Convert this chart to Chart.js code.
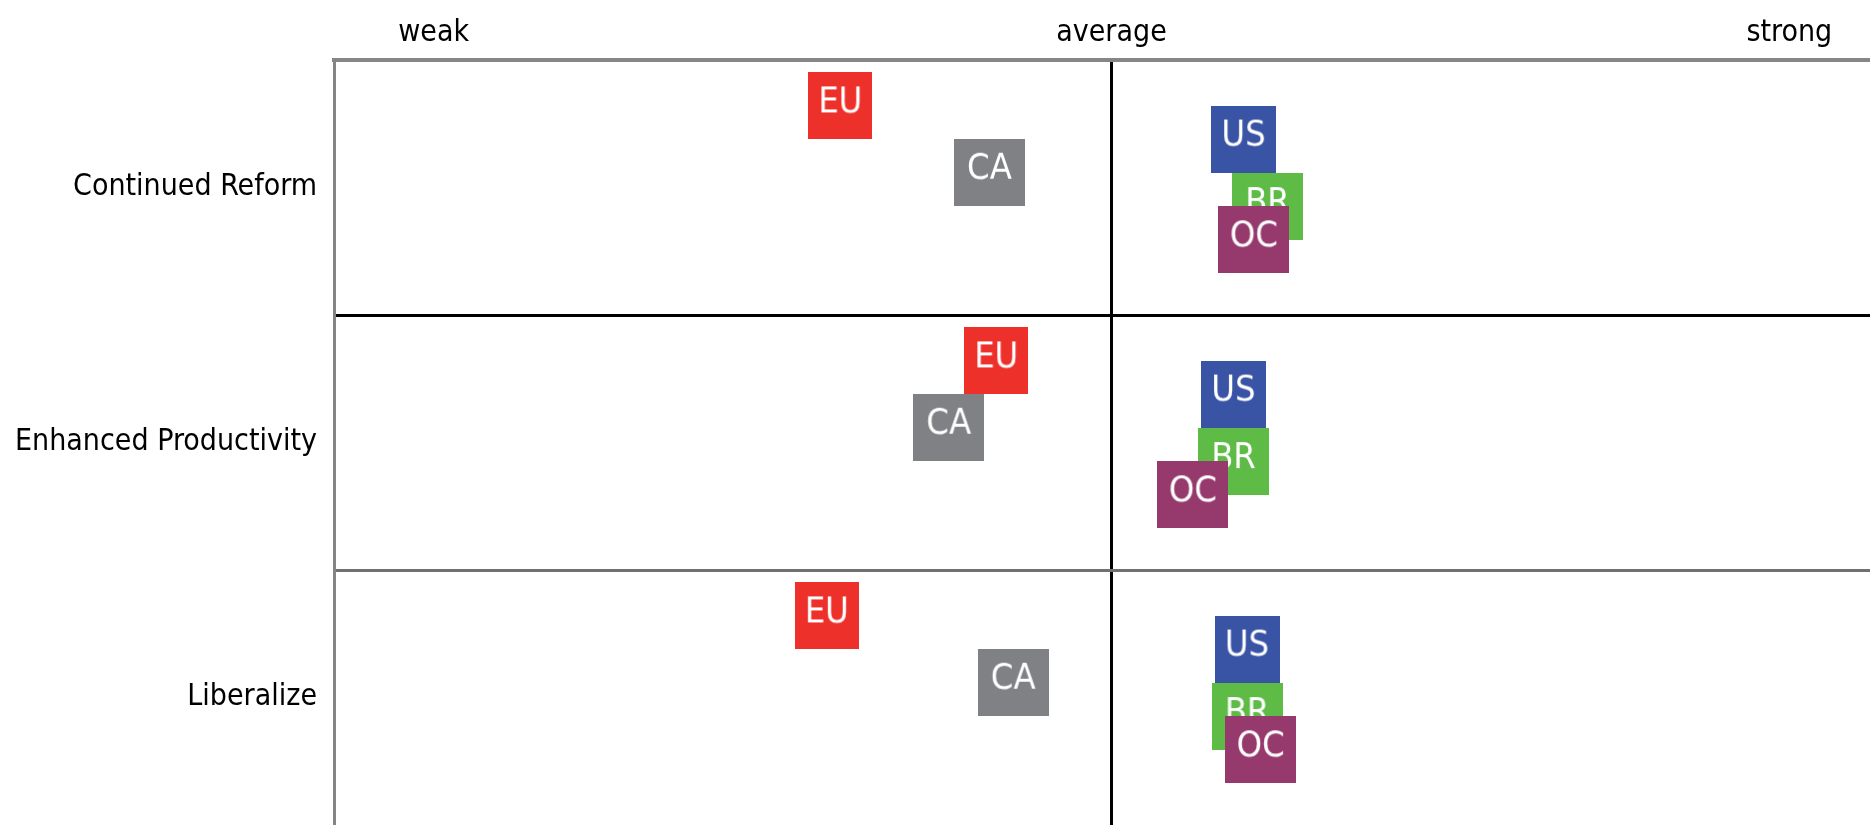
<html>

<head>
    <script src="https://cdn.jsdelivr.net/npm/chart.js@4.4.1/dist/chart.umd.min.js"></script>

    <style>
        body {
            margin: 0;
            background-color: white;
        }

        #wrap {
            width: 1870px;
            height: 825px;
        }
    </style>

</head>

<body>
    <div id="wrap"><canvas id="myChart"></canvas></div>
</body>
<script>

    // rows, top to bottom
    var categories = ['Continued Reform', 'Enhanced Productivity', 'Liberalize'];

    // x axis: -1 = weak, 0 = average, 1 = strong
    var strengthLabels = ['weak', 'average', 'strong'];
    var strengthValues = [-1, 0, 1];

    var countries = ['EU', 'CA', 'US', 'BR', 'OC'];

    // score of each country in each row
    var euScores = [-0.40, -0.17, -0.42];
    var caScores = [-0.18, -0.24, -0.145];
    var usScores = [0.195, 0.18, 0.20];
    var brScores = [0.23, 0.18, 0.20];
    var ocScores = [0.21, 0.12, 0.22];

    // where each country sits inside its row (0 = top of the row, 1 = bottom)
    var countryLanes = [0.18, 0.44, 0.31, 0.575, 0.705];

    // styles
    var countryColors = ['#ee302b', '#808185', '#3a54a5', '#5dbb46', '#963a6e'];
    var tagWidths = [64, 71, 65, 71, 71];
    var tagHeight = 67;

    // pick the narrow font if it is there, otherwise a condensed one
    var probe = document.createElement('canvas').getContext('2d');
    probe.font = '40px monospace';
    var plainWidth = probe.measureText('Continued Reform').width;
    probe.font = '40px "Liberation Sans Narrow", monospace';
    var hasNarrow = probe.measureText('Continued Reform').width !== plainWidth;

    var family = hasNarrow ? '"Liberation Sans Narrow"' : '"DejaVu Sans Condensed", "DejaVu Sans"';
    var rowFontSize = hasNarrow ? 39 : 30;
    var topFontSize = hasNarrow ? 37 : 30;
    var tagFontSize = hasNarrow ? 40 : 36;


    function makeTag(text, color, width) {
        var c = document.createElement('canvas');
        c.width = width;
        c.height = tagHeight;
        var g = c.getContext('2d');
        g.fillStyle = color;
        g.fillRect(0, 0, width, tagHeight);
        g.fillStyle = 'white';
        g.font = tagFontSize + 'px ' + family;
        g.textAlign = 'center';
        g.textBaseline = 'alphabetic';
        g.fillText(text, width / 2, 40);
        return c;
    }

    function drawMyChart() {

        var scoreLists = [euScores, caScores, usScores, brScores, ocScores];

        var datasets = countries.map(function (name, k) {
            return {
                label: name,
                data: categories.map(function (cat, row) {
                    return { x: scoreLists[k][row], y: row + countryLanes[k] };
                }),
                pointStyle: makeTag(name, countryColors[k], tagWidths[k]),
                pointRadius: 34,
                pointHoverRadius: 34,
                // later countries drawn on top
                order: countries.length - k
            };
        });

        // y ticks: a label in the middle of each row, a divider between rows
        var rowTicks = [];
        categories.forEach(function (cat, i) {
            if (i > 0) rowTicks.push({ value: i });
            rowTicks.push({ value: i + 0.5 });
        });

        var paintingCanvas = document.getElementById('myChart').getContext('2d');
        var chart = new Chart(paintingCanvas, {
            type: 'scatter',
            data: { datasets: datasets },
            options: {
                responsive: true,
                maintainAspectRatio: false,
                animation: false,
                layout: { padding: 0, autoPadding: false },
                plugins: {
                    legend: { display: false },
                    tooltip: { enabled: false }
                },
                scales: {
                    x: {
                        type: 'linear',
                        position: 'top',
                        min: -1.147,
                        max: 1.119,
                        afterBuildTicks: function (scale) {
                            scale.ticks = strengthValues.map(function (v) { return { value: v }; });
                        },
                        ticks: {
                            autoSkip: false,
                            maxRotation: 0,
                            padding: 9,
                            color: '#000',
                            font: { family: family, size: topFontSize },
                            callback: function (v) {
                                return strengthLabels[strengthValues.indexOf(v)];
                            }
                        },
                        grid: {
                            drawTicks: false,
                            lineWidth: 3,
                            color: function (ctx) {
                                return ctx.tick && ctx.tick.value === 0 ? '#000' : 'rgba(0,0,0,0)';
                            }
                        },
                        border: { color: '#868686', width: 4 },
                        afterFit: function (scale) {
                            scale.height = 60;
                            scale.paddingLeft = 0;
                            scale.paddingRight = 0;
                        }
                    },
                    y: {
                        type: 'linear',
                        reverse: true,
                        min: 0,
                        max: categories.length,
                        afterBuildTicks: function (scale) {
                            scale.ticks = rowTicks.slice();
                        },
                        ticks: {
                            autoSkip: false,
                            padding: 17,
                            color: '#000',
                            font: { family: family, size: rowFontSize },
                            callback: function (v) {
                                if (v % 1 === 0.5) return categories[Math.floor(v)];
                                return '';
                            }
                        },
                        grid: {
                            drawTicks: false,
                            lineWidth: 3,
                            color: function (ctx) {
                                if (!ctx.tick) return 'rgba(0,0,0,0)';
                                if (ctx.tick.value === 1) return '#000';
                                if (ctx.tick.value === 2) return '#707070';
                                return 'rgba(0,0,0,0)';
                            }
                        },
                        border: { color: '#858585', width: 3 },
                        afterFit: function (scale) {
                            scale.width = 334;
                            scale.paddingTop = 0;
                            scale.paddingBottom = 0;
                        }
                    }
                }
            }
        });
    }

    drawMyChart();

</script>

</html>
